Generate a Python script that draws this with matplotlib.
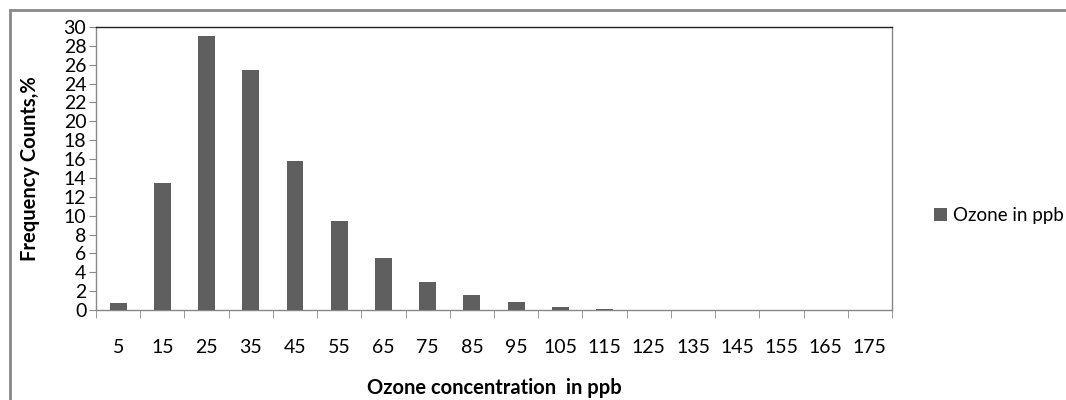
import numpy as np
import matplotlib
matplotlib.use("Agg")
from matplotlib import pyplot as plt
from matplotlib.patches import Rectangle

# ozone bins (ppb) and frequency (%)
bins = [5, 15, 25, 35, 45, 55, 65, 75, 85, 95, 105, 115, 125, 135, 145, 155, 165, 175]
freq = [0.7, 13.5, 29.0, 25.4, 15.8, 9.4, 5.5, 3.0, 1.6, 0.8, 0.35, 0.15, 0, 0, 0, 0, 0, 0]
yticks = list(range(0, 31, 2))

plt.rcParams['font.family'] = ['Lato', 'DejaVu Sans']
fs = 14

fig = plt.figure(figsize=(10.66, 4.0), dpi=100)
ax = fig.add_axes([96/1066, 1 - 310/400, (892 - 96)/1066, (310 - 27)/400])

x = np.arange(len(bins))
ax.bar(x, freq, width=0.38, color='#5f5f5f', label='Ozone in ppb', zorder=3)

ax.set_xlim(-0.5, len(bins) - 0.5)
ax.set_ylim(0, 30)
ax.set_yticks(yticks)
ax.set_yticklabels([str(v) for v in yticks], fontsize=fs)
ax.set_xticks(x)
ax.set_xticklabels([str(b) for b in bins], fontsize=fs)
ax.set_xticks(np.arange(-0.5, len(bins), 1), minor=True)
ax.tick_params(axis='x', which='major', length=0, pad=21)
ax.tick_params(axis='x', which='minor', length=6, color='#888888', direction='out')
ax.tick_params(axis='y', length=5, color='#888888', direction='out', pad=2)

for side in ['left', 'bottom', 'right']:
	ax.spines[side].set_color('#888888')
ax.spines['top'].set_color('#222222')
for sp in ax.spines.values():
	sp.set_linewidth(1.0)

ax.set_xlabel("Ozone concentration  in ppb", fontsize=14.5, fontweight='bold', labelpad=16)
ax.set_ylabel("Frequency Counts,%", fontsize=14.5, fontweight='bold', labelpad=17)

leg = fig.legend(loc='center left', bbox_to_anchor=(0.86, 0.462), frameon=False,
	fontsize=13.5, handlelength=0.7, handleheight=0.7, handletextpad=0.35)

# outer chart border
fig.patches.append(Rectangle((10/1066, -0.1), 1.2, 1 - 10/400 + 0.1, transform=fig.transFigure,
	fill=False, edgecolor='#888888', linewidth=2, zorder=0))

fig.savefig("out.png", dpi=100)
